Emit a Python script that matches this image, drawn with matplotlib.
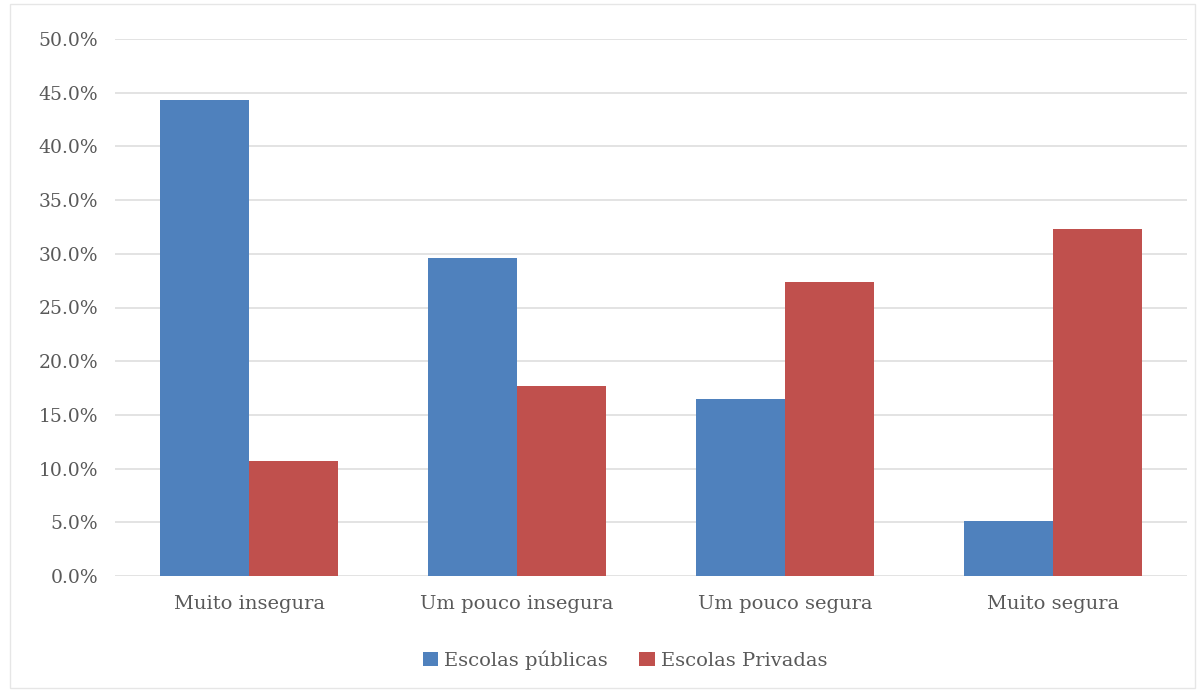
import matplotlib
matplotlib.use("Agg")
import matplotlib.pyplot as plt
import numpy as np
from matplotlib.patches import Rectangle

categorias = ["Muito insegura", "Um pouco insegura", "Um pouco segura", "Muito segura"]
publicas = [44.3, 29.6, 16.5, 5.1]
privadas = [10.7, 17.7, 27.4, 32.3]
series = ["Escolas públicas", "Escolas Privadas"]
cores = ["#4F81BD", "#C0504D"]

plt.rcParams['font.family'] = ['DejaVu Serif']
cinza = "#595959"

fig = plt.figure(figsize=(11.99, 6.9), dpi=100)
ax = fig.add_axes([115/1199, 1 - 576/690, (1187 - 115)/1199, (576 - 39)/690])

x = np.arange(len(categorias))
larg = 0.332
ax.bar(x - larg/2, publicas, larg, color=cores[0], label=series[0], zorder=3)
ax.bar(x + larg/2, privadas, larg, color=cores[1], label=series[1], zorder=3)

ax.set_xlim(-0.5, len(categorias) - 0.5)
ax.set_ylim(0, 50)
yt = np.arange(0, 50.1, 5)
ax.set_yticks(yt)
ax.set_yticklabels([f"{v:.1f}%" for v in yt])
ax.set_xticks(x)
ax.set_xticklabels(categorias)
ax.tick_params(axis='y', length=0, labelsize=13.5, colors=cinza, pad=12)
ax.tick_params(axis='x', length=0, labelsize=14, colors=cinza, pad=14)
ax.grid(axis='y', color="#DEDEDE", linewidth=1.2, zorder=0)
for s in ax.spines.values():
    s.set_visible(False)

leg = fig.legend(loc='center', bbox_to_anchor=(625/1199, 1 - 660/690), ncol=2,
                 frameon=False, fontsize=14, handlelength=0.8, handleheight=0.8,
                 handletextpad=0.3, columnspacing=1.6)
for t in leg.get_texts():
    t.set_color(cinza)

# moldura clara em volta do gráfico
fig.patches.append(Rectangle((10/1199, 2/690), 1185/1199, 684/690, transform=fig.transFigure,
                             fill=False, edgecolor="#E6E6E6", linewidth=1))

fig.savefig("out.png", dpi=100, facecolor="white")
